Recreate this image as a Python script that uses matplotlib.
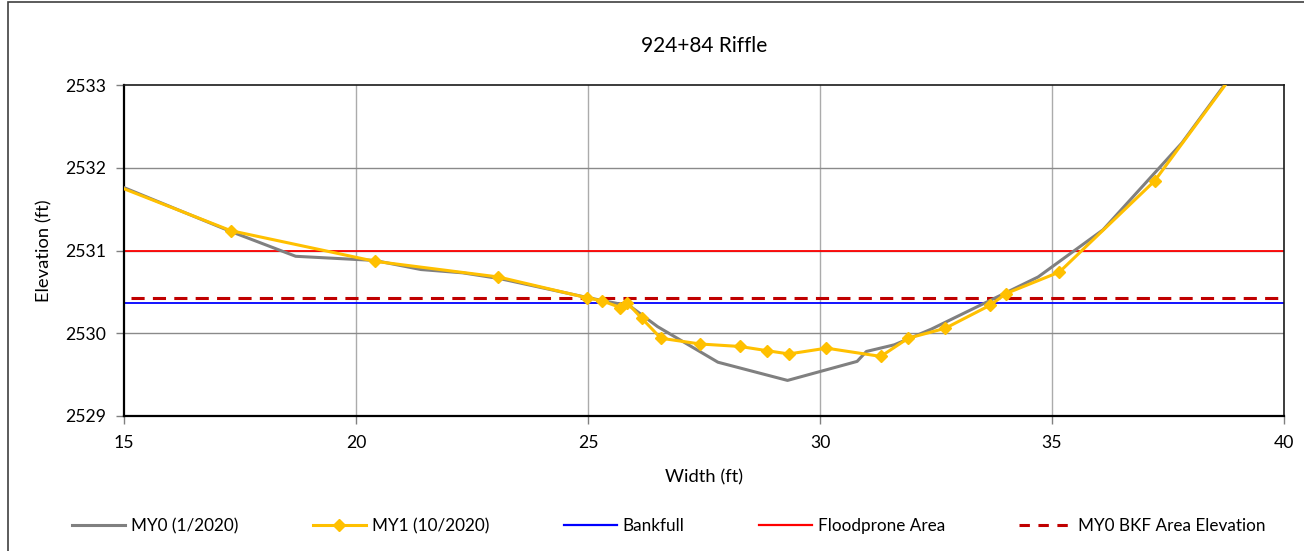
import matplotlib
matplotlib.use("Agg")
import matplotlib.pyplot as plt
from matplotlib.lines import Line2D
from matplotlib.patches import Rectangle

plt.rcParams['font.family'] = ['Lato', 'DejaVu Sans']

# Cross-section survey data (station in ft, elevation in ft)
my0_width = [15.0, 17.3, 18.7, 20.4, 21.4, 22.3, 23.1, 25.0, 25.9, 26.5, 27.8,
             29.3, 30.8, 31.0, 31.6, 32.4, 34.7, 36.1, 37.8, 39.2]
my0_elev = [2531.76, 2531.23, 2530.93, 2530.88, 2530.77, 2530.73, 2530.66,
            2530.43, 2530.33, 2530.08, 2529.65, 2529.43, 2529.66, 2529.78,
            2529.86, 2530.05, 2530.68, 2531.25, 2532.30, 2533.37]

my1_width = [14.3, 17.3, 20.4, 23.07, 24.97, 25.31, 25.70, 25.84, 26.16, 26.57,
             27.42, 28.28, 28.85, 29.33, 30.14, 31.31, 31.90, 32.70, 33.67,
             34.01, 35.16, 37.21, 39.6]
my1_elev = [2531.90, 2531.24, 2530.87, 2530.68, 2530.43, 2530.39, 2530.31,
            2530.37, 2530.18, 2529.94, 2529.87, 2529.84, 2529.79, 2529.75,
            2529.82, 2529.72, 2529.94, 2530.06, 2530.34, 2530.48, 2530.74,
            2531.84, 2533.66]

bankfull_elev = 2530.36
floodprone_elev = 2531.0
bkf_area_elev = 2530.43

x_ticks = [15, 20, 25, 30, 35, 40]
y_ticks = [2529, 2530, 2531, 2532, 2533]

fig = plt.figure(figsize=(13.04, 5.51), dpi=100)
ax = fig.add_axes([124 / 1304, 1 - 416 / 551, (1284 - 124) / 1304, (416 - 85) / 551])

# outer chart frame
fig.patches.append(Rectangle((8 / 1304, -0.05), 1.2, 1.05 - 2.5 / 551,
                             transform=fig.transFigure, fill=False,
                             edgecolor='#404040', linewidth=1.2))

ax.set_xlim(15, 40)
ax.set_ylim(2529, 2533)
ax.set_xticks(x_ticks)
ax.set_yticks(y_ticks)

for xv in x_ticks[1:-1]:
    ax.axvline(xv, color='#ABABAB', linewidth=1.0, zorder=0)
for yv in y_ticks[1:-1]:
    ax.axhline(yv, color='#8A8A8A', linewidth=1.0, zorder=0)

ax.plot(my0_width, my0_elev, color='#808080', linewidth=2.2, zorder=3)
ax.plot(my1_width, my1_elev, color='#FFC000', linewidth=2.2, marker='D',
        markersize=6.5, zorder=4)
ax.axhline(bankfull_elev, color='#0000FF', linewidth=1.3, zorder=2)
ax.axhline(floodprone_elev, color='#FF0000', linewidth=1.3, zorder=2)
ax.plot([15.15, 40], [bkf_area_elev, bkf_area_elev], color='#C00000',
        linewidth=2.2, dashes=(4.3, 2.7), zorder=2)

for side in ['left', 'bottom']:
    ax.spines[side].set_linewidth(1.6)
    ax.spines[side].set_color('black')
for side in ['top', 'right']:
    ax.spines[side].set_linewidth(1.2)
    ax.spines[side].set_color('#1A1A1A')

ax.tick_params(axis='both', direction='out', length=6, width=1.0,
               color='#808080', labelsize=12.7, pad=7)
ax.tick_params(axis='x', pad=8)

ax.set_title('924+84 Riffle', fontsize=15, pad=24)
ax.set_xlabel('Width (ft)', fontsize=13.2, labelpad=13)
ax.set_ylabel('Elevation (ft)', fontsize=13.2, labelpad=9)

handles = [
    Line2D([], [], color='#808080', linewidth=2.2),
    Line2D([], [], color='#FFC000', linewidth=2.2, marker='D', markersize=6.5),
    Line2D([], [], color='#0000FF', linewidth=1.6),
    Line2D([], [], color='#FF0000', linewidth=1.6),
    Line2D([], [], color='#C00000', linewidth=2.2, dashes=(3.4, 2.8)),
]
labels = ['MY0 (1/2020)', 'MY1 (10/2020)', 'Bankfull', 'Floodprone Area',
          'MY0 BKF Area Elevation']
fig.legend(handles, labels, loc='center', bbox_to_anchor=(669 / 1304, 1 - 526 / 551),
           ncol=5, frameon=False, fontsize=12.3, handlelength=3.1,
           handletextpad=0.35, columnspacing=4.35)

fig.savefig('out.png', dpi=100)
